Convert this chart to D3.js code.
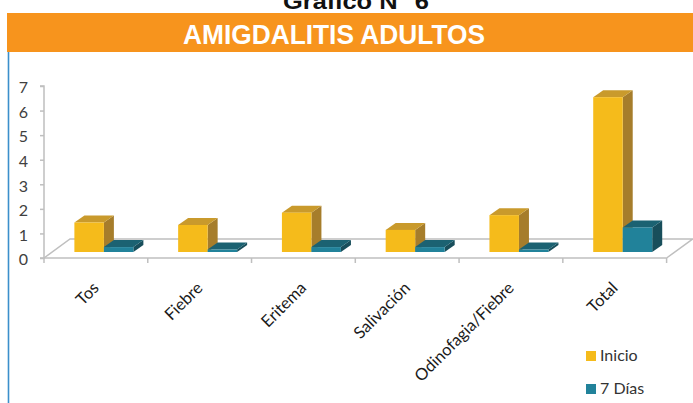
<!DOCTYPE html>
<html>
<head>
<meta charset="utf-8">
<script src="https://cdn.jsdelivr.net/npm/d3@7/dist/d3.min.js"></script>
<style>
html,body{margin:0;padding:0;background:#fff;}
svg{display:block;}
</style>
</head>
<body>
<svg id="chart" width="693" height="403"></svg>
<script>
const categories = ["Tos", "Fiebre", "Eritema", "Salivación", "Odinofagia/Fiebre", "Total"];
const seriesNames = ["Inicio", "7 Días"];
const inicio = [1.2, 1.1, 1.6, 0.9, 1.5, 6.3];
const sieteDias = [0.2, 0.1, 0.2, 0.2, 0.1, 1.0];
const yTicks = [0, 1, 2, 3, 4, 5, 6, 7];

const svg = d3.select("#chart");
const W = 693, H = 403;

// header
svg.append("text").attr("x", 356).attr("y", 9).attr("text-anchor", "middle")
  .attr("font-family", "Liberation Sans, Arial, sans-serif").attr("font-weight", "bold")
  .attr("font-size", 22).attr("fill", "#111").attr("textLength", 146)
  .attr("lengthAdjust", "spacingAndGlyphs").text("Gráfico N° 6");
svg.append("rect").attr("x", 7).attr("y", 13).attr("width", W - 7).attr("height", 39).attr("fill", "#F7941D");
svg.append("text").attr("x", 334).attr("y", 44).attr("text-anchor", "middle")
  .attr("font-family", "Liberation Sans Narrow, Arial Narrow, Liberation Sans, sans-serif")
  .attr("font-weight", "bold").attr("font-size", 28).attr("fill", "#fff")
  .attr("textLength", 302).attr("lengthAdjust", "spacingAndGlyphs").text("AMIGDALITIS ADULTOS");
svg.append("line").attr("x1", 8.5).attr("x2", 8.5).attr("y1", 52).attr("y2", H)
  .attr("stroke", "#3B8FCB").attr("stroke-width", 1.6);

// scales
const x0 = 44, x1 = 666.6;
const y = d3.scaleLinear().domain([0, 7]).range([258, 86]);
const xBand = d3.scaleBand().domain(categories).range([x0, x1]).paddingInner(0).paddingOuter(0);
const xSeries = d3.scaleBand().domain(seriesNames).range([0, 59]);
const depth = {dx: 26, dy: -19};
const barOff = {dx: 8, dy: -6};
const barDepth = {dx: 10, dy: -7};

const floorColor = "#BFBFBF";
const g = svg.append("g");

// floor back edge & sides
g.append("path")
  .attr("d", `M${x0},${y(0)} L${x0 + depth.dx},${y(0) + depth.dy} L${x1 + depth.dx},${y(0) + depth.dy} L${x1},${y(0)}`)
  .attr("fill", "none").attr("stroke", floorColor).attr("stroke-width", 1.5);

// bars
const colors = {
  "Inicio": {front: "#F5BB1B", top: "#C99A2C", side: "#A67D2B"},
  "7 Días": {front: "#21829A", top: "#1B6272", side: "#184E5B"}
};
const data = categories.map((c, i) => ({cat: c, vals: [inicio[i], sieteDias[i]]}));
const cx = d => xBand(d) + xBand.bandwidth() / 2;

data.forEach(d => {
  d.vals.forEach((v, si) => {
    const s = seriesNames[si];
    const left = cx(d.cat) - 29.5 + xSeries(s) + barOff.dx;
    const right = left + xSeries.bandwidth();
    const bottom = y(0) + barOff.dy;
    const top = bottom - (y(0) - y(v));
    const c = colors[s];
    const bx = barDepth.dx, by = barDepth.dy;
    g.append("path").attr("d", `M${right},${bottom} L${right + bx},${bottom + by} L${right + bx},${top + by} L${right},${top} Z`)
      .attr("fill", c.side);
    g.append("path").attr("d", `M${left},${top} L${left + bx},${top + by} L${right + bx},${top + by} L${right},${top} Z`)
      .attr("fill", c.top);
    g.append("rect").attr("x", left).attr("y", top).attr("width", right - left).attr("height", bottom - top)
      .attr("fill", c.front);
  });
});

// front floor edge
g.append("line").attr("x1", x0).attr("x2", x1).attr("y1", y(0)).attr("y2", y(0))
  .attr("stroke", floorColor).attr("stroke-width", 1.5);

// category ticks
const bounds = categories.map(c => xBand(c)).concat([x1]);
g.selectAll(".ctick").data(bounds).enter().append("line")
  .attr("x1", d => d).attr("x2", d => d).attr("y1", y(0)).attr("y2", y(0) + 5)
  .attr("stroke", floorColor).attr("stroke-width", 1.5);

// y axis
const yAxis = d3.axisLeft(y).tickValues(yTicks).tickSize(4).tickPadding(12).tickFormat(d3.format("d"));
const ya = svg.append("g").attr("transform", `translate(${x0},0)`).call(yAxis);
ya.select(".domain").attr("stroke", floorColor).attr("stroke-width", 1.5).attr("d", `M-4,${y(7)}H0V${y(0)}H-4`);
ya.selectAll(".tick line").attr("stroke", floorColor).attr("stroke-width", 1.5);
ya.selectAll(".tick text").attr("font-family", "Lato, Open Sans, sans-serif").attr("font-size", 16)
  .attr("fill", "#404040").attr("dy", "0.42em");

// category labels
svg.selectAll(".clabel").data(categories).enter().append("text")
  .attr("transform", d => `translate(${cx(d) + 4},${289}) rotate(-45)`)
  .attr("text-anchor", "end")
  .attr("font-family", "Lato, Open Sans, sans-serif").attr("font-size", 16.5).attr("fill", "#1a1a1a")
  .text(d => d);

// legend
const leg = svg.append("g");
seriesNames.forEach((s, i) => {
  leg.append("rect").attr("x", 586).attr("y", 351 + i * 33).attr("width", 10).attr("height", 10)
    .attr("fill", colors[s].front);
  leg.append("text").attr("x", 600).attr("y", 361 + i * 33)
    .attr("font-family", "Lato, Open Sans, sans-serif").attr("font-size", 16).attr("fill", "#333").text(s);
});
</script>
</body>
</html>
